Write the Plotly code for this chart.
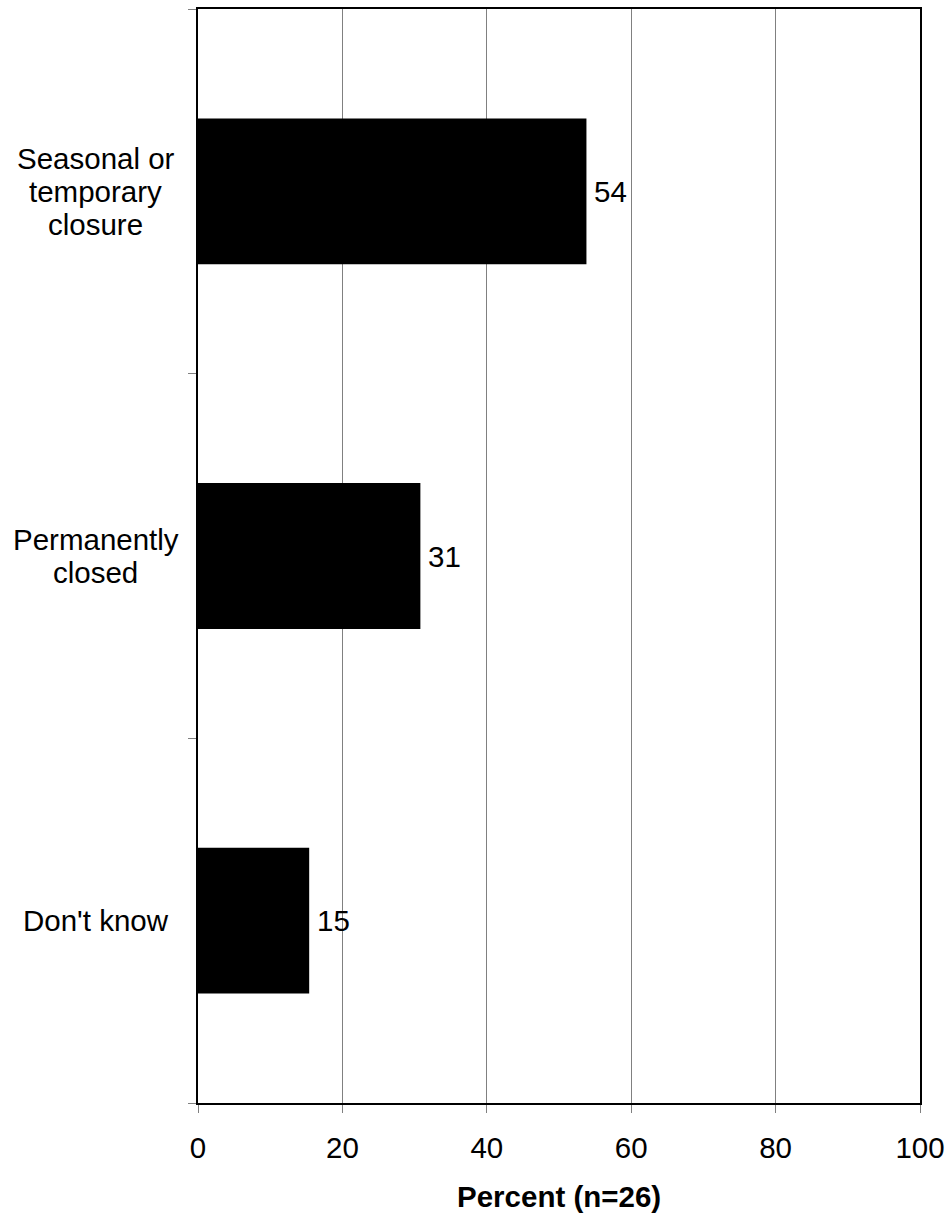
import plotly.graph_objects as go

categories = [["Seasonal or", "temporary", "closure"], ["Permanently", "closed"], ["Don't know"]]
values = [53.8, 30.8, 15.4]
labels = ["54", "31", "15"]
x_ticks = [0, 20, 40, 60, 80, 100]
x_title = "Percent (n=26)"

FONT = "Liberation Sans, Arial, sans-serif"
FS = 29.5

ypos = [2, 1, 0]

fig = go.Figure()
fig.add_trace(go.Bar(
    x=values, y=ypos, orientation="h",
    marker=dict(color="black", line=dict(width=0)),
    width=0.4,
))

W, H = 949, 1213
ml, mr, mt, mb = 198, 29, 9, 110
pw = W - ml - mr

annotations = []
line_h = 33
for cat, yv in zip(categories, ypos):
    n = len(cat)
    for i, line in enumerate(cat):
        off = (i - (n - 1) / 2) * line_h
        annotations.append(dict(
            x=(95.5 - ml) / pw, xref="paper", y=yv, yref="y",
            text=line, showarrow=False, xanchor="center", yanchor="middle",
            yshift=-off, font=dict(family=FONT, size=FS, color="black"),
        ))
for v, lab, yv in zip(values, labels, ypos):
    annotations.append(dict(
        x=v, xref="x", y=yv, yref="y", text=lab, showarrow=False,
        xanchor="left", yanchor="middle", xshift=6,
        font=dict(family=FONT, size=FS, color="black"),
    ))
annotations.append(dict(
    x=0.5, xref="paper", y=0, yref="paper", text="<b>" + x_title + "</b>",
    showarrow=False, xanchor="center", yanchor="middle", yshift=-93,
    font=dict(family=FONT, size=FS, color="black"),
))

fig.update_layout(
    width=W, height=H,
    margin=dict(l=ml, r=mr, t=mt, b=mb, autoexpand=False),
    paper_bgcolor="white", plot_bgcolor="white",
    showlegend=False,
    font=dict(family=FONT, size=FS, color="black"),
    annotations=annotations,
)
fig.update_xaxes(
    range=[0, 100], tickvals=x_ticks, ticktext=[str(t) for t in x_ticks],
    showgrid=True, gridcolor="#808080", gridwidth=1,
    ticks="outside", ticklen=8, tickcolor="#808080", tickwidth=1,
    showline=True, linecolor="black", linewidth=2, mirror=True,
    zeroline=False, ticklabelstandoff=10, ticklabeloverflow="allow",
    automargin=False,
    tickfont=dict(family=FONT, size=FS, color="black"),
)
fig.update_yaxes(
    range=[-0.5, 2.5], tickvals=[-0.5, 0.5, 1.5, 2.5], ticktext=["", "", "", ""],
    showgrid=False, ticks="outside", ticklen=8, tickcolor="#808080", tickwidth=1,
    showline=True, linecolor="black", linewidth=2, mirror=True, zeroline=False,
    automargin=False,
)
fig.write_html("out.html", config={"displayModeBar": False},
               post_script="document.body.style.margin='0';document.body.style.overflow='hidden';")
